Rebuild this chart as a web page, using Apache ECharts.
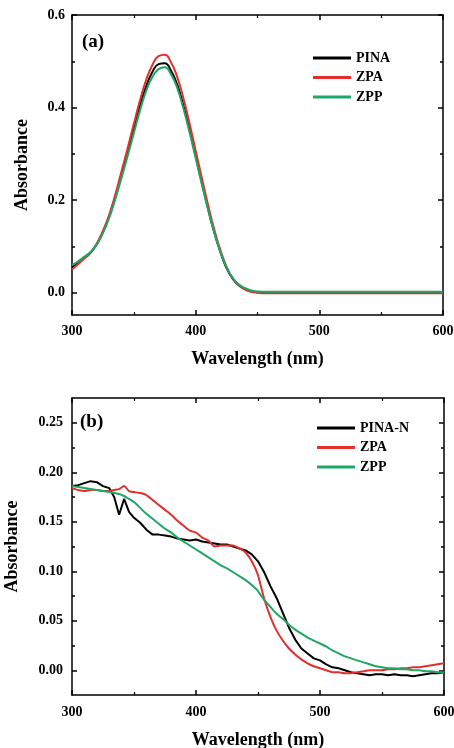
<!DOCTYPE html>
<html><head><meta charset="utf-8">
<script src="https://cdn.jsdelivr.net/npm/echarts@6/dist/echarts.min.js"></script>
<style>html,body{margin:0;padding:0;background:#fff}#c{width:454px;height:748px}</style>
</head><body><div id="c"></div>
<script>
// ---- Panel (a) data ----
const wlA = [300,305,310,315,320,325,330,335,340,345,350,355,360,365,370,375,380,385,390,395,400,405,410,415,420,425,430,435,440,445,450,455,460,465,470,475,480,485,490,495,500,505,510,515,520,525,530,535,540,545,550,555,560,565,570,575,580,585,590,595,600];
const pinaA = [0.055,0.065,0.076,0.087,0.105,0.131,0.164,0.206,0.253,0.302,0.353,0.403,0.446,0.477,0.494,0.496,0.480,0.450,0.405,0.352,0.295,0.238,0.182,0.131,0.088,0.053,0.030,0.016,0.008,0.003,0.001,0.000,0.000,0.000,0.000,0.000,0.000,0.000,0.000,0.000,0.000,0.000,0.000,0.000,0.000,0.000,0.000,0.000,0.000,0.000,0.000,0.000,0.000,0.000,0.000,0.000,0.000,0.000,0.000,0.000,0.000];
const zpaA = [0.050,0.062,0.074,0.086,0.106,0.134,0.168,0.212,0.262,0.312,0.365,0.416,0.460,0.492,0.511,0.514,0.498,0.467,0.421,0.366,0.307,0.248,0.190,0.137,0.092,0.056,0.031,0.016,0.007,0.002,0.000,-0.001,-0.001,-0.001,-0.001,-0.001,-0.001,-0.001,-0.001,-0.001,-0.001,-0.001,-0.001,-0.001,-0.001,-0.001,-0.001,-0.001,-0.001,-0.001,-0.001,-0.001,-0.001,-0.001,-0.001,-0.001,-0.001,-0.001,-0.001,-0.001,-0.001];
const zppA = [0.060,0.068,0.078,0.088,0.104,0.129,0.161,0.202,0.248,0.296,0.345,0.394,0.436,0.466,0.483,0.487,0.472,0.443,0.399,0.347,0.291,0.234,0.180,0.130,0.088,0.055,0.032,0.018,0.010,0.005,0.003,0.002,0.002,0.002,0.002,0.002,0.002,0.002,0.002,0.002,0.002,0.002,0.002,0.002,0.002,0.002,0.002,0.002,0.002,0.002,0.002,0.002,0.002,0.002,0.002,0.002,0.002,0.002,0.002,0.002,0.002];

// ---- Panel (b) data ----
const wlB = [300,305,310,315,320,325,330,334,338,342,346,350,355,360,365,370,375,380,385,390,395,400,405,410,415,420,425,430,435,440,445,450,455,460,465,470,475,480,485,490,495,500,505,510,515,520,525,530,535,540,545,550,555,560,565,570,575,580,585,590,595,600];
const pinaNB = [0.186,0.187,0.189,0.191,0.190,0.186,0.184,0.175,0.157,0.173,0.160,0.154,0.149,0.142,0.137,0.137,0.136,0.135,0.133,0.132,0.131,0.132,0.130,0.129,0.128,0.127,0.127,0.125,0.123,0.121,0.117,0.110,0.099,0.085,0.073,0.058,0.043,0.031,0.022,0.017,0.012,0.010,0.006,0.003,0.002,0.000,-0.002,-0.003,-0.004,-0.005,-0.004,-0.004,-0.005,-0.004,-0.005,-0.005,-0.006,-0.005,-0.004,-0.003,-0.003,-0.002];
const zpaB = [0.184,0.182,0.181,0.182,0.182,0.181,0.181,0.182,0.183,0.186,0.181,0.180,0.179,0.177,0.172,0.167,0.162,0.157,0.151,0.146,0.141,0.139,0.134,0.131,0.125,0.126,0.126,0.126,0.123,0.119,0.110,0.096,0.072,0.054,0.040,0.030,0.022,0.016,0.011,0.007,0.004,0.002,0.000,-0.002,-0.002,-0.003,-0.003,-0.002,-0.001,0.000,0.000,0.000,0.001,0.001,0.002,0.002,0.003,0.003,0.004,0.005,0.006,0.007];
const zppB = [0.186,0.185,0.184,0.183,0.182,0.181,0.180,0.179,0.178,0.176,0.173,0.170,0.164,0.158,0.153,0.148,0.143,0.139,0.134,0.130,0.126,0.122,0.118,0.114,0.110,0.106,0.103,0.099,0.095,0.091,0.086,0.080,0.071,0.064,0.057,0.052,0.046,0.041,0.037,0.033,0.030,0.027,0.024,0.020,0.017,0.014,0.012,0.010,0.008,0.006,0.004,0.003,0.002,0.002,0.001,0.001,0.000,0.000,-0.001,-0.001,-0.002,-0.002];

// ---- ticks ----
const xTicks = [300, 400, 500, 600];
const yTicksA = [0.0, 0.2, 0.4, 0.6];
const yMinorA = [0.1, 0.3, 0.5];
const yTicksB = [0.00, 0.05, 0.10, 0.15, 0.20, 0.25];
const yMinorB = [0.025, 0.075, 0.125, 0.175, 0.225];

const FONT = 'Liberation Serif';
const BLACK = '#000000', RED = '#e3302b', GREEN = '#1ea766';
const pairs = (xs, ys) => xs.map((x, i) => [x, ys[i]]);
const axLine = { show: true, onZero: false, lineStyle: { color: '#000', width: 1.5 } };
const noLine = { show: false, onZero: false };
const lblStyle = { color: '#000', fontFamily: FONT, fontWeight: 'bold', fontSize: 14 };
const nameStyle = { color: '#000', fontFamily: FONT, fontWeight: 'bold', fontSize: 18 };

function xAxes(gridIndex, margin, gap) {
  const base = { type: 'value', gridIndex, min: xTicks[0], max: xTicks[xTicks.length - 1], interval: 100,
    splitLine: { show: false }, axisLine: axLine,
    axisTick: { inside: true, length: 5, lineStyle: { color: '#000', width: 1.5 } },
    minorTick: { show: true, splitNumber: 2, length: 3, lineStyle: { color: '#000', width: 1.2 } } };
  return [
    Object.assign({}, base, { position: 'bottom', name: 'Wavelength (nm)', nameLocation: 'middle', nameGap: gap,
      nameTextStyle: nameStyle, axisLabel: Object.assign({ margin }, lblStyle) }),
    Object.assign({}, base, { position: 'top', axisLabel: { show: false } })
  ];
}
function yAxes(gridIndex, min, max, major, minor, digits, gap, margin) {
  const common = { type: 'value', gridIndex, min, max, splitLine: { show: false } };
  const tk = (vals, len) => ({ inside: true, length: len, customValues: vals, lineStyle: { color: '#000', width: 1.5 } });
  return [
    Object.assign({}, common, { position: 'left', axisLine: axLine, axisTick: tk(major, 5),
      axisLabel: Object.assign({ margin, customValues: major, formatter: v => Number(v).toFixed(digits) }, lblStyle),
      name: 'Absorbance', nameLocation: 'middle', nameGap: gap, nameRotate: 90, nameTextStyle: nameStyle }),
    Object.assign({}, common, { position: 'left', axisLine: noLine, axisTick: tk(minor, 3), axisLabel: { show: false } }),
    Object.assign({}, common, { position: 'right', axisLine: axLine, axisTick: tk(major, 5), axisLabel: { show: false } }),
    Object.assign({}, common, { position: 'right', axisLine: noLine, axisTick: tk(minor, 3), axisLabel: { show: false } })
  ];
}
function line(name, color, xs, ys, xi, yi, smooth) {
  return { name, type: 'line', xAxisIndex: xi, yAxisIndex: yi, data: pairs(xs, ys), showSymbol: false, symbol: 'none',
    smooth, lineStyle: { color, width: 2 }, itemStyle: { color }, animation: false };
}
const legendBase = { orient: 'vertical', icon: 'rect', itemWidth: 38, itemHeight: 3, itemGap: 5.5, padding: 0,
  textStyle: { color: '#000', fontFamily: FONT, fontWeight: 'bold', fontSize: 14, lineHeight: 14 } };
const panelTag = { color: '#000', fontFamily: FONT, fontWeight: 'bold', fontSize: 19 };

const chart = echarts.init(document.getElementById('c'), null, { renderer: 'canvas' });
chart.setOption({
  animation: false,
  backgroundColor: '#fff',
  title: [
    { text: '(a)', left: 82, top: 33, padding: 0, textStyle: panelTag },
    { text: '(b)', left: 80, top: 413, padding: 0, textStyle: panelTag }
  ],
  legend: [
    Object.assign({}, legendBase, { left: 313, top: 51, data: ['PINA', 'ZPA', 'ZPP'] }),
    Object.assign({}, legendBase, { left: 317, top: 421, data: ['PINA-N', 'ZPA', 'ZPP'] })
  ],
  grid: [
    { left: 72, top: 15, width: 371, height: 300, outerBoundsMode: 'none', containLabel: false },
    { left: 72, top: 398, width: 372, height: 297, outerBoundsMode: 'none', containLabel: false }
  ],
  xAxis: [].concat(xAxes(0, 9, 35), xAxes(1, 10, 36)),
  yAxis: [].concat(
    yAxes(0, -0.048, 0.6, yTicksA, yMinorA, 1, 41, 7),
    yAxes(1, -0.025, 0.275, yTicksB, yMinorB, 2, 51, 9)
  ),
  series: [
    line('PINA', BLACK, wlA, pinaA, 0, 0, true),
    line('ZPA', RED, wlA, zpaA, 0, 0, true),
    line('ZPP', GREEN, wlA, zppA, 0, 0, true),
    line('PINA-N', BLACK, wlB, pinaNB, 2, 4, false),
    line('ZPA', RED, wlB, zpaB, 2, 4, 0.2),
    line('ZPP', GREEN, wlB, zppB, 2, 4, 0.2)
  ]
});
</script></body></html>
